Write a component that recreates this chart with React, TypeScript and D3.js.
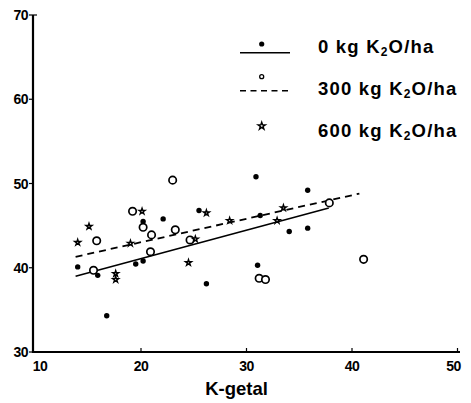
import React from "react";
import * as d3 from "d3";

const xTicks = [10, 20, 30, 40, 50];
const yTicks = [30, 40, 50, 60, 70];

// 0 kg K2O/ha (filled dots)
const series0X = [14.0, 15.9, 16.75, 19.5, 20.2, 20.2, 22.1, 25.5, 26.2, 30.9, 31.05, 31.3, 34.05, 35.8, 35.8];
const series0Y = [40.1, 39.1, 34.3, 40.45, 40.8, 45.5, 45.8, 46.8, 38.1, 50.8, 40.3, 46.2, 44.3, 44.7, 49.2];

// 300 kg K2O/ha (open circles)
const series300X = [15.5, 15.8, 19.2, 20.2, 20.9, 21.0, 23.0, 23.25, 24.65, 31.2, 31.8, 37.85, 41.1];
const series300Y = [39.7, 43.2, 46.7, 44.8, 41.9, 43.9, 50.4, 44.5, 43.3, 38.75, 38.6, 47.7, 41.0];

// 600 kg K2O/ha (stars)
const series600X = [14.0, 15.07, 17.6, 17.6, 19.0, 20.1, 24.5, 25.15, 26.2, 28.4, 32.9, 33.5];
const series600Y = [43.0, 44.9, 39.3, 38.6, 42.9, 46.7, 40.6, 43.4, 46.5, 45.6, 45.6, 47.1];

// regression lines [x0, x1], [y0, y1]
const line0X = [13.8, 37.8];
const line0Y = [39.0, 47.1];
const line300X = [13.8, 40.7];
const line300Y = [41.3, 48.8];

const legendLabels = ["0 kg K", "300 kg K", "600 kg K"];

export default function App() {
  const W = 471, H = 403;
  const x = d3.scaleLinear().domain([10, 50]).range([35.5, 457.5]);
  const y = d3.scaleLinear().domain([30, 70]).range([352, 15]);
  const star = d3.symbol().type(d3.symbolStar).size(11)();
  const starLegend = d3.symbol().type(d3.symbolStar).size(16)();
  const lineGen = d3.line<[number, number]>().x(d => x(d[0])).y(d => y(d[1]));
  const l0 = lineGen(line0X.map((v, i) => [v, line0Y[i]]));
  const l300 = lineGen(line300X.map((v, i) => [v, line300Y[i]]));
  const font = "'Liberation Sans', Arial, Helvetica, sans-serif";
  const legY = [53, 95, 137];

  return (
    <svg width={W} height={H} style={{ position: "absolute", left: 0, top: 0, background: "#fff" }} fontFamily={font}>
      {/* axes */}
      <line x1={33} x2={33} y1={y(70)} y2={y(30) + 1} stroke="#000" strokeWidth={2.2} />
      <line x1={32} x2={460} y1={y(30)} y2={y(30)} stroke="#000" strokeWidth={2.2} />
      {yTicks.map(t => (
        <g key={"y" + t}>
          <line x1={29} x2={33} y1={y(t)} y2={y(t)} stroke="#000" strokeWidth={1.2} />
          <text x={28} y={y(t)} dy="0.36em" textAnchor="end" fontSize={14} fontWeight="bold" letterSpacing={-0.5}>{t}</text>
        </g>
      ))}
      <line x1={33} x2={37} y1={y(70)} y2={y(70)} stroke="#000" strokeWidth={1.2} />
      {xTicks.map(t => (
        <g key={"x" + t}>
          {t > 10 && <line x1={x(t)} x2={x(t)} y1={y(30) - 4} y2={y(30)} stroke="#000" strokeWidth={1.2} />}
          <text x={t === 10 ? x(t) + 4.5 : t === 50 ? x(t) - 4 : x(t)} y={371} textAnchor="middle" fontSize={14} fontWeight="bold" letterSpacing={-0.5}>{t}</text>
        </g>
      ))}
      <text x={236.5} y={395} textAnchor="middle" fontSize={18.5} fontWeight="bold">K-getal</text>

      {/* regression lines */}
      <path d={l0 || ""} fill="none" stroke="#000" strokeWidth={1.6} />
      <path d={l300 || ""} fill="none" stroke="#000" strokeWidth={1.8} strokeDasharray="7,5" />

      {/* points */}
      {series0X.map((v, i) => (
        <circle key={"a" + i} cx={x(v)} cy={y(series0Y[i])} r={2.7} fill="#000" />
      ))}
      {series300X.map((v, i) => (
        <circle key={"b" + i} cx={x(v)} cy={y(series300Y[i])} r={3.7} fill="#fff" stroke="#000" strokeWidth={1.7} />
      ))}
      {series600X.map((v, i) => (
        <path key={"c" + i} d={star || ""} transform={`translate(${x(v)},${y(series600Y[i])})`} fill="#fff" stroke="#000" strokeWidth={1.4} />
      ))}

      {/* legend */}
      <line x1={240} x2={290} y1={52.7} y2={52.7} stroke="#000" strokeWidth={1.5} />
      <circle cx={261.7} cy={44} r={2.6} fill="#000" />
      <line x1={240} x2={290} y1={90.7} y2={90.7} stroke="#000" strokeWidth={1.5} strokeDasharray="6,4.5" />
      <circle cx={261.7} cy={76.7} r={2} fill="#fff" stroke="#000" strokeWidth={1.3} />
      <path d={starLegend || ""} transform="translate(261.7,126)" fill="#fff" stroke="#000" strokeWidth={1.4} />
      {legendLabels.map((lab, i) => (
        <text key={"l" + i} x={318} y={legY[i]} fontSize={18.5} fontWeight="bold" letterSpacing={1.2}>
          {lab}
          <tspan fontSize={12} dy={3}>2</tspan>
          <tspan dy={-3}>O/ha</tspan>
        </text>
      ))}
    </svg>
  );
}
